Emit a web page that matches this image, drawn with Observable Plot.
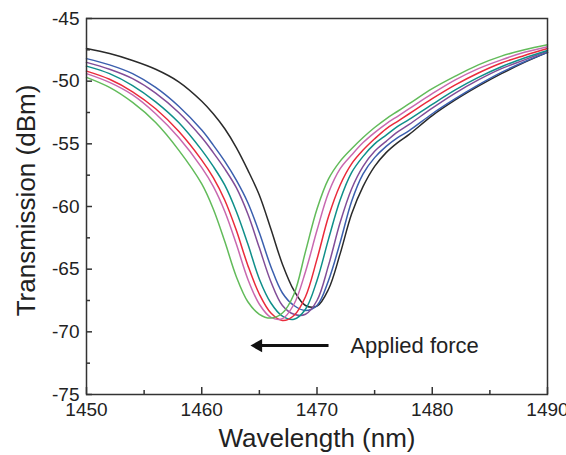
<!DOCTYPE html>
<html><head><meta charset="utf-8">
<script src="https://cdn.jsdelivr.net/npm/d3@7"></script>
<script src="https://cdn.jsdelivr.net/npm/@observablehq/plot@0.6"></script>
<style>body{margin:0;background:#fff} #chart svg{display:block}</style>
</head><body><div id="chart"></div>
<script>
const wavelengths = [1450,1452,1454,1456,1458,1460,1461,1462,1463,1464,1465,1466,1467,1468,1469,1470,1471,1472,1473,1474,1475,1476,1477,1478,1480,1482,1484,1486,1488,1490];
const curve1 = [-47.4,-47.8,-48.35,-49.05,-50.05,-51.6,-52.6,-53.8,-55.3,-57.1,-59.1,-61.8,-64.6,-66.7,-67.9,-67.95,-66.6,-63.8,-60.6,-58.4,-56.8,-55.7,-54.9,-54.25,-52.75,-51.5,-50.4,-49.4,-48.5,-47.7];
const curve2 = [-48.2,-48.7,-49.4,-50.5,-52.0,-53.9,-55.1,-56.4,-57.9,-59.7,-62.1,-64.8,-66.9,-67.9,-68.3,-67.9,-65.9,-62.9,-59.6,-57.4,-56.1,-55.2,-54.5,-53.95,-52.6,-51.4,-50.3,-49.3,-48.45,-47.7];
const curve3 = [-48.5,-49.05,-49.8,-50.95,-52.5,-54.5,-55.7,-57.0,-58.5,-60.6,-63.3,-66.0,-67.9,-68.6,-68.6,-67.5,-64.7,-61.3,-58.6,-56.8,-55.6,-54.8,-54.05,-53.45,-52.15,-50.95,-49.9,-49.0,-48.3,-47.6];
const curve4 = [-48.8,-49.4,-50.35,-51.65,-53.3,-55.5,-56.8,-58.3,-60.4,-63.0,-65.8,-67.7,-68.75,-69.0,-68.2,-65.9,-62.6,-59.5,-57.3,-56.0,-55.0,-54.3,-53.6,-53.05,-51.85,-50.7,-49.7,-48.85,-48.15,-47.55];
const curve5 = [-49.2,-49.85,-50.85,-52.2,-54.0,-56.3,-57.7,-59.5,-61.9,-64.7,-67.0,-68.5,-69.1,-68.7,-67.2,-64.2,-60.8,-58.3,-56.6,-55.5,-54.6,-53.8,-53.2,-52.6,-51.4,-50.3,-49.35,-48.55,-47.95,-47.4];
const curve6 = [-49.4,-50.1,-51.1,-52.6,-54.5,-56.9,-58.4,-60.4,-63.0,-65.8,-67.8,-68.85,-68.95,-67.8,-65.2,-61.9,-58.9,-57.0,-55.9,-54.9,-54.1,-53.4,-52.8,-52.2,-51.0,-49.9,-49.0,-48.3,-47.7,-47.25];
const curve7 = [-49.7,-50.5,-51.7,-53.3,-55.5,-58.2,-60.2,-62.8,-65.6,-67.6,-68.6,-68.9,-68.5,-67.0,-63.6,-60.2,-57.8,-56.4,-55.4,-54.5,-53.7,-53.0,-52.4,-51.8,-50.6,-49.6,-48.7,-48.0,-47.5,-47.1];
const seriesNames = ["Force 0","Force 1","Force 2","Force 3","Force 4","Force 5","Force 6"];
const seriesColors = ["#2a2a2a","#3b5fae","#824d98","#0f8f8a","#ea2b3b","#c868b0","#62bb5a"];
const seriesValues = [curve1,curve2,curve3,curve4,curve5,curve6,curve7];
const xTicks = [1450,1460,1470,1480,1490];
const xMinorTicks = [1455,1465,1475,1485];
const yTicks = [-75,-70,-65,-60,-55,-50,-45];
const yMinorTicks = [-72.5,-67.5,-62.5,-57.5,-52.5,-47.5];
const xTitle = "Wavelength (nm)";
const yTitle = "Transmission (dBm)";
const annotationLabel = "Applied force";
const annotationText = [{x: 1472.9, y: -71.1, label: annotationLabel}];
const annotationArrow = [{x1: 1471.0, x2: 1465.0, y: -71.1}];
const annotationHead = [{x: 1464.9, y: -71.1}];

const rows = [];
seriesNames.forEach((name, i) => {
  wavelengths.forEach((w, j) => rows.push({series: name, wl: w, v: seriesValues[i][j]}));
});

const W = 566, H = 455, mL = 86, mR = 19, mT = 18, mB = 61;
const plotW = W - mL - mR, plotH = H - mT - mB;
const font = "'Liberation Sans', Arial, Helvetica, sans-serif";

const chart = Plot.plot({
  width: W, height: H,
  marginLeft: mL, marginRight: mR, marginTop: mT, marginBottom: mB,
  style: {fontFamily: font, background: "#fff", color: "#222", overflow: "visible"},
  x: {domain: [1450, 1490]},
  y: {domain: [-75, -45]},
  color: {domain: seriesNames, range: seriesColors},
  marks: [
    Plot.line(rows, {x: "wl", y: "v", z: "series", stroke: "series", strokeWidth: 1.5, curve: "catmull-rom"}),
    Plot.frame({stroke: "#333", strokeWidth: 1.5}),
    Plot.tickY(yTicks, {y: d => d, insetRight: plotW - 6, stroke: "#333", strokeWidth: 1.5}),
    Plot.tickY(yMinorTicks, {y: d => d, insetRight: plotW - 4, stroke: "#333", strokeWidth: 1.5}),
    Plot.tickX(xTicks, {x: d => d, insetTop: plotH - 7, stroke: "#333", strokeWidth: 1.5}),
    Plot.tickX(xMinorTicks, {x: d => d, insetTop: plotH - 4, stroke: "#333", strokeWidth: 1.5}),
    Plot.axisX({ticks: xTicks, tickSize: 0, tickPadding: 8, tickFormat: d => String(d), fontSize: 19, label: null, fill: "#222"}),
    Plot.axisY({ticks: yTicks, tickSize: 0, tickPadding: 7, tickFormat: d => String(d), fontSize: 19, label: null, fill: "#222"}),
    Plot.text([xTitle], {frameAnchor: "bottom", dy: 44, textAnchor: "middle", lineAnchor: "middle", fontSize: 26, fill: "#222"}),
    Plot.text([yTitle], {frameAnchor: "left", dx: -60, dy: -6, textAnchor: "middle", lineAnchor: "middle", rotate: -90, fontSize: 26, fill: "#222"}),
    Plot.link(annotationArrow, {x1: "x1", x2: "x2", y1: "y", y2: "y", stroke: "#111", strokeWidth: 3}),
    Plot.dot(annotationHead, {x: "x", y: "y", symbol: "triangle", r: 5, rotate: -90, fill: "#111", stroke: null}),
    Plot.text(annotationText, {x: "x", y: "y", text: "label", textAnchor: "start", fontSize: 22, fill: "#222"})
  ]
});
document.getElementById("chart").appendChild(chart);
</script>
</body></html>
